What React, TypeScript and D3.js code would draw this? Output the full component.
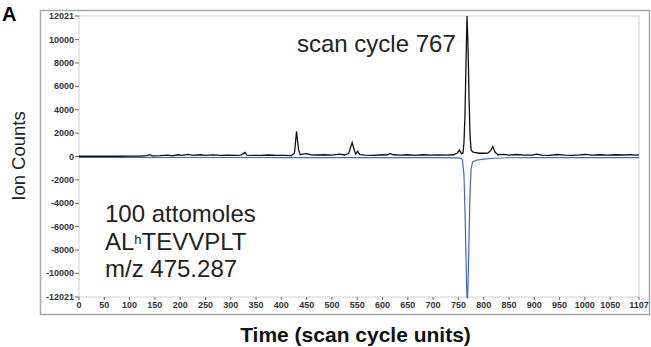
import React from "react";
import * as d3 from "d3";

const blackT = [0,20,40,60,80,100,120,135,140,145,160,175,185,195,205,215,225,240,250,265,280,295,310,320,328,332,345,360,375,390,405,420,426,430,434,437,442,450,458,470,485,500,515,525,533,537,540,543,547,551,555,565,580,595,610,615,622,635,650,665,680,695,710,725,740,748,752,756,759,761,763,765,767,769,771,773,775,778,782,790,800,808,814,818,822,828,840,850,865,880,895,905,915,930,945,960,975,990,1000,1015,1030,1045,1060,1075,1090,1100,1107];
const blackV = [20,20,20,20,20,25,30,80,150,60,70,120,60,150,90,180,100,150,90,140,100,120,90,120,350,120,90,100,130,90,100,80,300,2150,600,150,200,250,150,130,150,120,200,130,250,800,1200,700,200,450,150,120,100,130,150,250,150,120,150,100,150,120,130,120,150,300,550,250,300,1200,3500,8000,12021,9500,5000,1800,600,400,350,280,280,300,500,850,400,150,180,120,170,120,110,200,120,100,170,120,100,140,180,120,150,110,150,130,160,120,140];

const blueT = [0,100,200,300,400,500,600,700,750,755,758,761,763,765,766,767,768,769,771,773,775,778,785,800,820,850,900,1000,1107];
const blueV = [-10,-10,-15,-15,-20,-20,-20,-25,-50,-80,-250,-1500,-4500,-8500,-10500,-12021,-12021,-11000,-7000,-3000,-1000,-400,-250,-150,-80,-40,-30,-20,-20];

const yTicks = [12021,10000,8000,6000,4000,2000,0,-2000,-4000,-6000,-8000,-10000,-12021];
const xTicks = [0,50,100,150,200,250,300,350,400,450,500,550,600,650,700,750,800,850,900,950,1000,1050,1107];

export default function App() {
  const L = 79, R = 639, T = 16, B = 297;
  const x = d3.scaleLinear().domain([0, 1107]).range([L, R]);
  const y = d3.scaleLinear().domain([-12021, 12021]).range([B, T]);
  const line = d3.line<[number, number]>().x(d => x(d[0])).y(d => y(d[1]));
  const black = blackT.map((t, i) => [t, blackV[i]] as [number, number]);
  const blue = blueT.map((t, i) => [t, blueV[i]] as [number, number]);
  const font = "Liberation Sans, Arial, sans-serif";
  return (
    <svg width={651} height={347} style={{ position: "absolute", left: 0, top: 0, background: "#fff" }} fontFamily={font}>
      <rect x={0} y={0} width={651} height={347} fill="#fff" />
      <text x={2} y={21} fontSize={20} fontWeight="bold">A</text>
      <rect x={40.5} y={10.5} width={609} height={304} fill="none" stroke="#a8a8a8" strokeWidth={1.5} />
      <rect x={L} y={T} width={R - L} height={B - T} fill="none" stroke="#d0d0d0" strokeWidth={1} />
      {yTicks.map(v => (
        <g key={v}>
          <line x1={L - 4} x2={L} y1={y(v)} y2={y(v)} stroke="#444" strokeWidth={0.8} />
          <text x={L - 5} y={y(v) + 3} fontSize={9} fontWeight="bold" textAnchor="end" fill="#333">{v}</text>
        </g>
      ))}
      {xTicks.map(v => (
        <g key={v}>
          <line x1={x(v)} x2={x(v)} y1={B} y2={B + 3} stroke="#444" strokeWidth={0.8} />
          <text x={x(v)} y={B + 11} fontSize={9} fontWeight="bold" textAnchor="middle" fill="#333">{v}</text>
        </g>
      ))}
      <path d={line(blue) || ""} fill="none" stroke="#4466cc" strokeWidth={1.2} transform="translate(0,0.8)" />
      <path d={line(black) || ""} fill="none" stroke="#111" strokeWidth={1.3} />
      <text x={297} y={52} fontSize={24} fill="#222">scan cycle 767</text>
      <text x={105} y={222} fontSize={24} fill="#222">100 attomoles</text>
      <text x={105} y={250} fontSize={24} fill="#222">AL<tspan fontSize={13} dy={-6}>h</tspan><tspan dy={6}>TEVVPLT</tspan></text>
      <text x={105} y={277} fontSize={24} fill="#222">m/z 475.287</text>
      <text transform="translate(25,156) rotate(-90)" fontSize={18.5} textAnchor="middle" fill="#222">Ion Counts</text>
      <text x={355.5} y={342} fontSize={21} fontWeight="bold" textAnchor="middle" fill="#111">Time (scan cycle units)</text>
    </svg>
  );
}
